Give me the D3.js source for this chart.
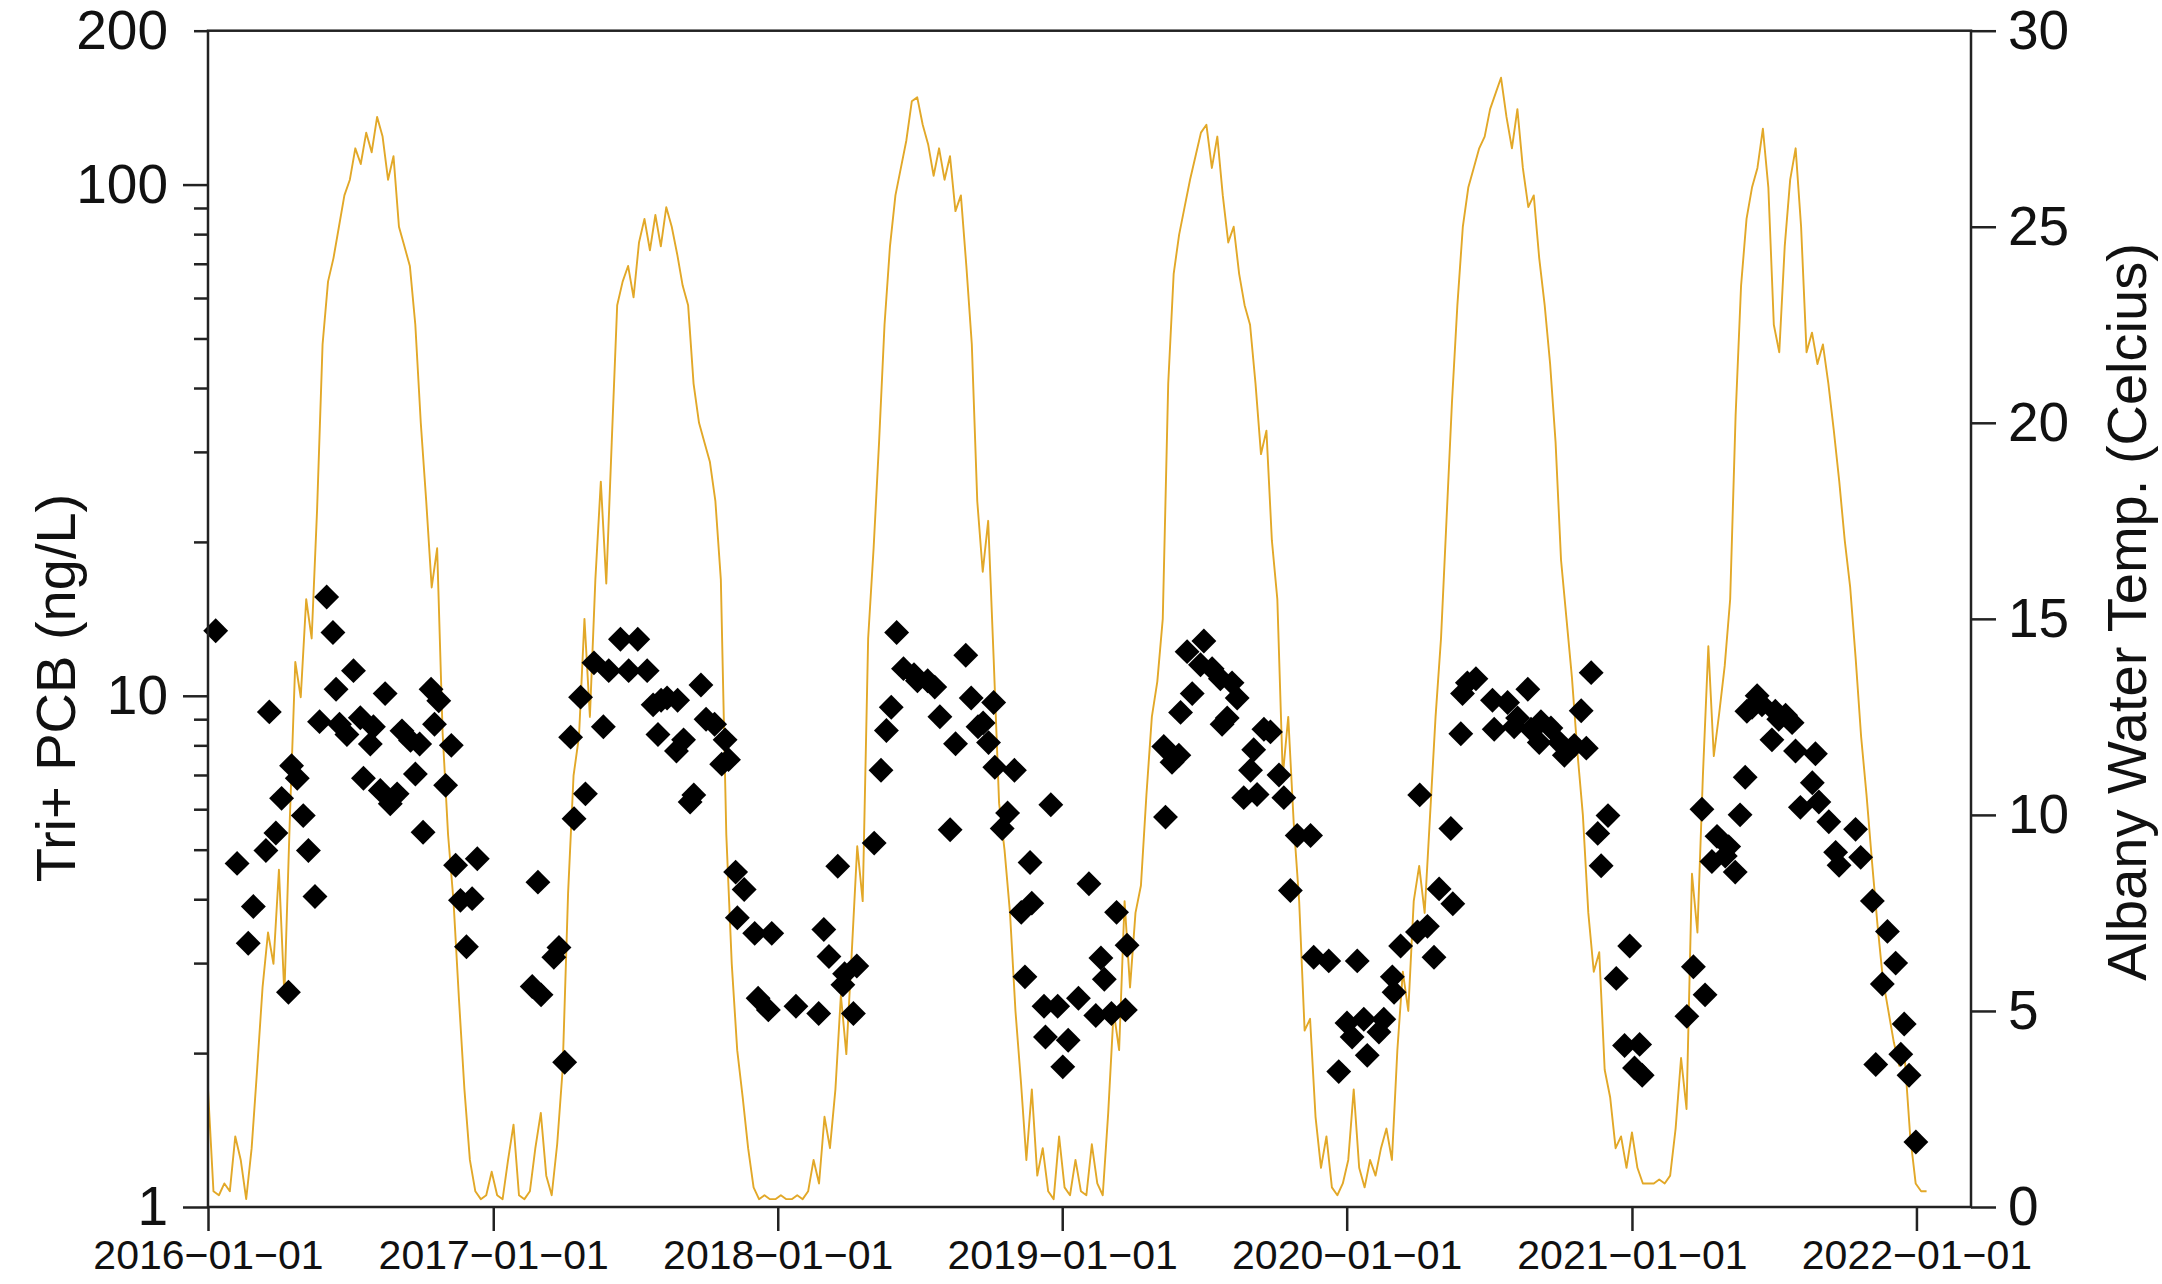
<!DOCTYPE html>
<html>
<head>
<meta charset="utf-8">
<script src="https://cdn.jsdelivr.net/npm/d3@7"></script>
<style>
  body { margin: 0; background: #fff; }
  svg text { font-family: "Liberation Sans", Arial, sans-serif; fill: #111; }
</style>
</head>
<body>
<script>
// Albany water temperature, weekly readings starting 2016-01-01 (deg C)
const tempStart = "2016-01-01";
const tempWeekly = [
  // 2016
  3.0, 0.4, 0.3, 0.6, 0.4, 1.8, 1.2, 0.2, 1.5, 3.5, 5.6, 7.0, 6.2, 8.6, 5.4, 9.9, 13.9, 13.0, 15.5, 14.5,
  17.8, 22.0, 23.6, 24.2, 25.0, 25.8, 26.2, 27.0, 26.6, 27.4, 26.9, 27.8, 27.3, 26.2, 26.8, 25.0, 24.5, 24.0,
  22.5, 20.0, 18.0, 15.8, 16.8, 12.1, 9.5, 7.8, 5.3, 3.0, 1.2, 0.4, 0.2, 0.3, 0.9,
  // 2017
  0.3, 0.2, 1.2, 2.1, 0.3, 0.2, 0.4, 1.5, 2.4, 0.8, 0.3, 1.6, 3.5, 8.0, 11.0, 12.0, 15.0, 12.5, 16.0, 18.5,
  15.9, 19.5, 23.0, 23.6, 24.0, 23.2, 24.6, 25.2, 24.4, 25.3, 24.5, 25.5, 25.0, 24.3, 23.5, 23.0, 21.0, 20.0,
  19.5, 19.0, 18.0, 16.0, 9.5, 6.2, 4.0, 2.8, 1.5, 0.5, 0.2, 0.3, 0.2, 0.2,
  // 2018
  0.3, 0.2, 0.2, 0.3, 0.2, 0.4, 1.2, 0.6, 2.3, 1.5, 3.0, 5.4, 3.9, 6.5, 9.2, 7.8, 14.5, 16.8, 19.5, 22.5,
  24.5, 25.8, 26.5, 27.2, 28.2, 28.3, 27.6, 27.1, 26.3, 27.0, 26.2, 26.8, 25.4, 25.8, 24.0, 22.0, 18.0, 16.2,
  17.5, 14.0, 10.3, 9.1, 7.5, 5.0, 3.2, 1.2, 3.0, 0.8, 1.5, 0.4, 0.2,
  // 2019
  1.8, 0.5, 0.3, 1.2, 0.4, 0.3, 1.6, 0.6, 0.3, 2.4, 5.0, 4.0, 7.8, 5.6, 7.5, 8.2, 10.5, 12.5, 13.4, 15.0,
  21.0, 23.8, 24.8, 25.5, 26.2, 26.8, 27.4, 27.6, 26.5, 27.3, 25.8, 24.6, 25.0, 23.8, 23.0, 22.5, 21.0, 19.2,
  19.8, 17.0, 15.5, 11.0, 12.5, 9.8, 7.8, 4.5, 4.8, 2.3, 1.0, 1.8, 0.5, 0.3,
  // 2020
  0.6, 1.2, 3.0, 1.0, 0.5, 1.2, 0.8, 1.5, 2.0, 1.2, 4.0, 6.0, 5.0, 7.8, 8.7, 7.5, 10.0, 12.5, 14.5, 17.5,
  20.5, 23.0, 25.0, 26.0, 26.5, 27.0, 27.3, 28.0, 28.4, 28.8, 27.8, 27.0, 28.0, 26.5, 25.5, 25.8, 24.2, 23.0,
  21.5, 19.5, 16.5, 15.0, 13.5, 11.6, 10.0, 7.5, 6.0, 6.5, 3.5, 2.8, 1.5, 1.8, 1.0,
  // 2021
  1.9, 1.0, 0.6, 0.6, 0.6, 0.7, 0.6, 0.8, 2.0, 3.8, 2.5, 8.5, 7.0, 11.0, 14.3, 11.5, 12.6, 13.8, 15.5, 20.2,
  23.5, 25.2, 26.0, 26.5, 27.5, 26.0, 22.5, 21.8, 24.5, 26.2, 27.0, 25.0, 21.8, 22.3, 21.5, 22.0, 21.0, 19.8,
  18.5, 17.0, 15.8, 14.0, 12.0, 10.5, 8.8, 7.2, 5.8, 5.0, 4.2, 3.6, 3.8, 1.8, 0.6, 0.4, 0.4
];

// Tri+ PCB samples: sampling time (decimal year) and concentration (ng/L)
const pcbDate = [
  2016.027, 2016.102, 2016.141, 2016.159, 2016.203, 2016.215, 2016.238, 2016.258, 2016.282, 2016.293, 2016.313,
  2016.334, 2016.352, 2016.375, 2016.391, 2016.416, 2016.438, 2016.449, 2016.461, 2016.487, 2016.510, 2016.534,
  2016.545, 2016.569, 2016.580, 2016.604, 2016.621, 2016.639, 2016.663, 2016.680, 2016.710, 2016.727, 2016.742,
  2016.754, 2016.782, 2016.794, 2016.809, 2016.833, 2016.853, 2016.868, 2016.885, 2016.906, 2016.926, 2016.944,
  2017.137, 2017.157, 2017.168, 2017.213, 2017.231, 2017.251, 2017.272, 2017.284, 2017.307, 2017.324, 2017.354,
  2017.387, 2017.406, 2017.447, 2017.476, 2017.508, 2017.541, 2017.562, 2017.579, 2017.590, 2017.611, 2017.644,
  2017.648, 2017.669, 2017.692, 2017.705, 2017.730, 2017.748, 2017.778, 2017.803, 2017.815, 2017.827, 2017.852,
  2017.858, 2017.882, 2017.919, 2017.931, 2017.967, 2017.979,
  2018.064, 2018.144, 2018.162, 2018.180, 2018.211, 2018.229, 2018.235, 2018.266, 2018.278, 2018.339, 2018.363,
  2018.382, 2018.399, 2018.418, 2018.442, 2018.479, 2018.491, 2018.527, 2018.552, 2018.570, 2018.606, 2018.625,
  2018.661, 2018.680, 2018.704, 2018.722, 2018.741, 2018.759, 2018.763, 2018.789, 2018.808, 2018.832, 2018.856,
  2018.869, 2018.887, 2018.893, 2018.936, 2018.941, 2018.960, 2018.984,
  2019.002, 2019.021, 2019.057, 2019.094, 2019.118, 2019.136, 2019.148, 2019.173, 2019.191, 2019.222, 2019.228,
  2019.357, 2019.363, 2019.386, 2019.410, 2019.416, 2019.439, 2019.457, 2019.486, 2019.498, 2019.527, 2019.556,
  2019.562, 2019.580, 2019.597, 2019.615, 2019.638, 2019.662, 2019.673, 2019.685, 2019.709, 2019.732, 2019.762,
  2019.779, 2019.802, 2019.826, 2019.873, 2019.884, 2019.937, 2019.972,
  2020.001, 2020.019, 2020.037, 2020.060, 2020.072, 2020.113, 2020.130, 2020.160, 2020.166, 2020.189, 2020.248,
  2020.256, 2020.283, 2020.306, 2020.324, 2020.365, 2020.372, 2020.400, 2020.406, 2020.423, 2020.453, 2020.511,
  2020.517, 2020.564, 2020.587, 2020.599, 2020.635, 2020.646, 2020.675, 2020.681, 2020.716, 2020.746, 2020.763,
  2020.798, 2020.822, 2020.840, 2020.857, 2020.880, 2020.892, 2020.916, 2020.945, 2020.974, 2020.992,
  2021.009, 2021.027, 2021.036, 2021.193, 2021.216, 2021.246, 2021.257, 2021.281, 2021.299, 2021.328, 2021.340,
  2021.363, 2021.380, 2021.398, 2021.404, 2021.422, 2021.440, 2021.457, 2021.492, 2021.504, 2021.516, 2021.540,
  2021.563, 2021.575, 2021.592, 2021.634, 2021.645, 2021.657, 2021.692, 2021.716, 2021.728, 2021.786, 2021.804,
  2021.845, 2021.857, 2021.880, 2021.898, 2021.927, 2021.945, 2021.957, 2021.974, 2021.998
];
const pcbValue = [
  13.4, 4.7, 3.28, 3.87, 4.98, 9.3, 5.39, 6.3, 2.63, 7.3, 6.9,
  5.83, 4.98, 4.05, 8.9, 15.6, 13.3, 10.3, 8.8, 8.4, 11.2, 9.06,
  6.9, 8.05, 8.7, 6.53, 10.1, 6.15, 6.43, 8.54, 8.18, 7.03, 8.05,
  5.41, 10.3, 8.8, 9.78, 6.68, 8.0, 4.66, 3.98, 3.23, 4.01, 4.8,
  2.7, 4.32, 2.6, 3.08, 3.22, 1.92, 8.3, 5.75, 9.94, 6.43, 11.6,
  8.7, 11.2, 12.9, 11.2, 12.9, 11.2, 9.6, 8.4, 9.8, 9.9, 7.8,
  9.8, 8.2, 6.2, 6.4, 10.5, 9.0, 8.8, 7.35, 8.2, 7.5, 4.52,
  3.68, 4.18, 3.43, 2.56, 2.43, 3.43,
  2.47, 2.39, 3.49, 3.09, 4.64, 2.72, 2.86, 2.39, 2.96, 5.15, 7.15,
  8.55, 9.5, 13.3, 11.3, 11.0, 10.7, 10.7, 10.4, 9.1, 5.47, 8.06,
  12.0, 9.9, 8.7, 8.85, 8.1, 9.7, 7.25, 5.5, 5.9, 7.15, 3.77,
  2.82, 4.72, 3.93, 2.47, 2.15, 6.12, 2.47,
  1.88, 2.12, 2.56, 4.29, 2.37, 3.07, 2.79, 2.39, 3.77, 2.43, 3.25,
  7.96, 5.79, 7.41, 7.65, 9.28, 12.2, 10.1, 11.5, 12.8, 11.3, 10.8,
  8.8, 9.05, 10.6, 9.9, 6.32, 7.15, 7.84, 6.41, 8.6, 8.5, 7.0,
  6.32, 4.16, 5.33, 5.33, 3.08, 3.03, 1.84,
  2.29, 2.15, 3.03, 2.33, 1.98, 2.2, 2.33, 2.82, 2.63, 3.24, 3.45,
  6.4, 3.54, 3.08, 4.19, 5.5, 3.92, 8.43, 10.1, 10.6, 10.8, 9.8,
  8.6, 9.7, 8.7, 9.05, 10.3, 8.6, 8.1, 8.9, 8.65, 8.1, 7.65,
  8.0, 9.35, 7.9, 11.1, 5.38, 4.65, 5.83, 2.8, 2.07, 3.24,
  1.87, 2.08, 1.81, 2.36, 2.95, 6.0, 2.6, 4.74, 5.31, 4.86, 5.07,
  4.52, 5.85, 6.93, 9.33, 9.5, 10.0, 9.6, 8.2, 9.33, 9.0, 9.16,
  8.86, 7.8, 6.05, 6.76, 7.7, 6.2, 5.67, 4.94, 4.66, 5.48, 4.83,
  3.97, 1.9, 2.73, 3.46, 3.0, 1.99, 2.28, 1.81, 1.34
];

const dateTicks = ["2016-01-01", "2017-01-01", "2018-01-01", "2019-01-01", "2020-01-01", "2021-01-01", "2022-01-01"];
const pcbMajorTicks = [1, 10, 100, 200];
const pcbMinorTicks = [2, 3, 4, 5, 6, 7, 8, 9, 20, 30, 40, 50, 60, 70, 80, 90];
const tempTicks = [0, 5, 10, 15, 20, 25, 30];

const width = 2162;
const height = 1284;
const margin = { top: 30.7, right: 191, bottom: 77, left: 208 };
const axisColor = "#222";

function fromDecimalYear(t) {
  const y = Math.floor(t);
  const a = Date.UTC(y, 0, 1), b = Date.UTC(y + 1, 0, 1);
  return new Date(a + (t - y) * (b - a));
}

const t0 = new Date(tempStart + "T00:00:00Z").getTime();
const tempData = tempWeekly.map((v, i) => ({ date: new Date(t0 + i * 7 * 864e5), value: v }));
const pcbData = pcbDate.map((t, i) => ({ date: fromDecimalYear(t), value: pcbValue[i] }));

const svg = d3.select("body").append("svg")
  .attr("width", width)
  .attr("height", height);

// Scales
const x = d3.scaleUtc()
  .domain([new Date("2016-01-01T00:00:00Z"), new Date("2022-03-12T00:00:00Z")])
  .range([margin.left, width - margin.right]);

const yPcb = d3.scaleLog()
  .domain([1, 200])
  .range([height - margin.bottom, margin.top]);

const yTemp = d3.scaleLinear()
  .domain([0, 30])
  .range([height - margin.bottom, margin.top]);

// Temperature line
svg.append("path")
  .datum(tempData)
  .attr("fill", "none")
  .attr("stroke", "#E2A828")
  .attr("stroke-width", 1.9)
  .attr("stroke-linejoin", "round")
  .attr("d", d3.line().x(d => x(d.date)).y(d => yTemp(d.value)));

// PCB diamonds
const diamond = d3.symbol().type(d3.symbolSquare).size(310);
svg.append("g")
  .selectAll("path")
  .data(pcbData)
  .join("path")
  .attr("d", diamond)
  .attr("transform", d => `translate(${x(d.date)},${yPcb(d.value)}) rotate(45)`)
  .attr("fill", "#000");

// Frame
svg.append("rect")
  .attr("x", margin.left)
  .attr("y", margin.top)
  .attr("width", width - margin.left - margin.right)
  .attr("height", height - margin.top - margin.bottom)
  .attr("fill", "none")
  .attr("stroke", axisColor)
  .attr("stroke-width", 2.5);

function styleAxis(g, size) {
  g.attr("font-family", null).attr("font-size", size);
  g.select(".domain").remove();
  g.selectAll(".tick line").attr("stroke", axisColor).attr("stroke-width", 2.5);
  g.selectAll(".tick text").attr("fill", "#111");
}

// Left axis (log)
const gLeft = svg.append("g")
  .attr("transform", `translate(${margin.left},0)`)
  .call(d3.axisLeft(yPcb).tickValues(pcbMajorTicks).tickFormat(d3.format("d")).tickSize(25).tickPadding(15))
  .call(styleAxis, 55);
gLeft.selectAll(".tick").filter(d => d === 200).select("line").attr("x2", -14);

svg.append("g")
  .attr("transform", `translate(${margin.left},0)`)
  .call(d3.axisLeft(yPcb).tickValues(pcbMinorTicks).tickFormat("").tickSize(14))
  .call(styleAxis, 55);

// Right axis (temperature)
svg.append("g")
  .attr("transform", `translate(${width - margin.right},0)`)
  .call(d3.axisRight(yTemp).tickValues(tempTicks).tickSize(25).tickPadding(12))
  .call(styleAxis, 55);

// Bottom axis (dates)
const fmt = d3.utcFormat("%Y-%m-%d");
svg.append("g")
  .attr("transform", `translate(0,${height - margin.bottom})`)
  .call(d3.axisBottom(x)
    .tickValues(dateTicks.map(d => new Date(d + "T00:00:00Z")))
    .tickFormat(d => fmt(d).replace(/-/g, "\u2212"))
    .tickSize(24)
    .tickPadding(9))
  .call(styleAxis, 41);

// Axis titles
svg.append("text")
  .attr("transform", "translate(75,688) rotate(-90)")
  .attr("text-anchor", "middle")
  .attr("font-size", 56)
  .text("Tri+ PCB (ng/L)");

svg.append("text")
  .attr("transform", `translate(2146,612) rotate(-90)`)
  .attr("text-anchor", "middle")
  .attr("font-size", 56)
  .text("Albany Water Temp. (Celcius)");
</script>
</body>
</html>
